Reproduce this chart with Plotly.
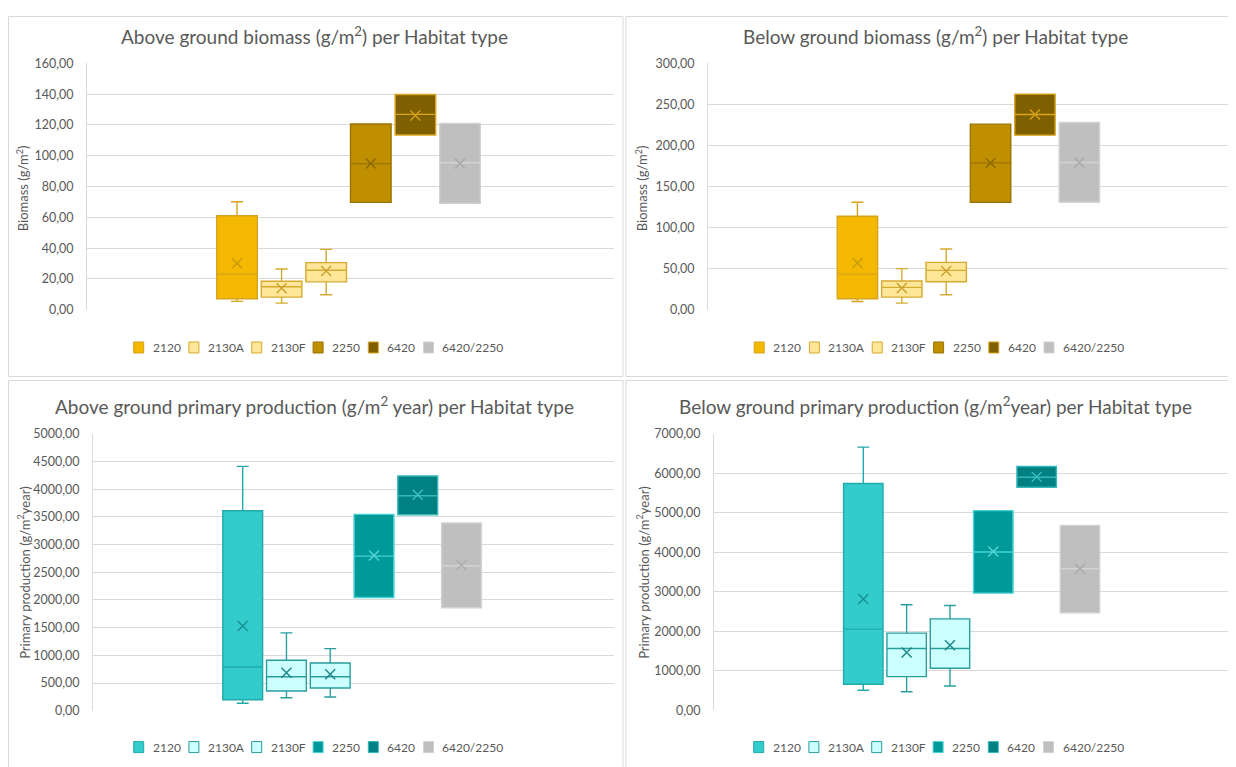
import plotly.graph_objects as go

# The photographed page places the figure 8px right and 16px down and squeezes it
# slightly in height; positions below are given in reference pixels and mapped.
OFF_X, OFF_Y, SY = 8, 16, 0.979
W, H = 1236 - OFF_X, 767


def px(x):
    return (x - OFF_X) / W


def py(y):
    return 1 - ((y - OFF_Y) / SY) / H


categories = ["2120", "2130A", "2130F", "2250", "6420", "6420/2250"]

# Above ground biomass (g/m2)
agb_min = [5.4, 4.3, 9.7, 69.7, 113.5, 69.2]
agb_q1 = [7.1, 8.2, 18.1, 69.7, 113.5, 69.2]
agb_median = [23.0, 14.9, 25.6, 94.9, 126.9, 95.5]
agb_q3 = [61.0, 18.5, 30.6, 120.6, 139.8, 121.0]
agb_max = [70.1, 26.5, 39.2, 120.6, 139.8, 121.0]
agb_mean = [30.2, 14.0, 25.2, 94.9, 126.2, 94.9]

# Below ground biomass (g/m2)
bgb_min = [10.1, 8.1, 18.3, 130.9, 212.6, 130.9]
bgb_q1 = [13.4, 15.4, 34.1, 130.9, 212.6, 130.9]
bgb_median = [43.4, 27.2, 47.9, 178.8, 237.8, 179.3]
bgb_q3 = [113.8, 34.9, 57.7, 226.0, 262.6, 228.0]
bgb_max = [130.9, 50.0, 73.9, 226.0, 262.6, 228.0]
bgb_mean = [56.8, 26.4, 47.1, 178.8, 237.8, 179.3]

# Above ground primary production (g/m2 year)
agp_min = [134, 235, 248, 2044, 3540, 1858]
agp_q1 = [199, 356, 411, 2044, 3540, 1858]
agp_median = [790, 615, 615, 2793, 3884, 2618]
agp_q3 = [3613, 912, 863, 3546, 4240, 3390]
agp_max = [4414, 1406, 1122, 3546, 4240, 3390]
agp_mean = [1532, 687, 658, 2805, 3902, 2630]

# Below ground primary production (g/m2 year)
bgp_min = [508, 472, 617, 2969, 5650, 2470]
bgp_q1 = [660, 853, 1066, 2969, 5650, 2470]
bgp_median = [2056, 1564, 1564, 4010, 5904, 3586]
bgp_q3 = [5744, 1954, 2317, 5058, 6175, 4685]
bgp_max = [6665, 2672, 2655, 5058, 6175, 4685]
bgp_mean = [2817, 1462, 1650, 4025, 5912, 3586]

gold_fill = ["#F4B800", "#FFE699", "#FFE699", "#BF8F00", "#7F6000", "#BFBFBF"]
gold_line = ["#D6A41C", "#D6AA30", "#D6AA30", "#9A7400", "#D9A520", "#D2D2D2"]
gold_mean = ["#C89A10", "#C9A02C", "#C9A02C", "#8C6A00", "#D4A017", "#A8A8A8"]

teal_fill = ["#33CCCC", "#CCFFFF", "#CCFFFF", "#009999", "#008080", "#BFBFBF"]
teal_line = ["#22A9A9", "#2A9D9D", "#2A9D9D", "#45D2D2", "#33B8B8", "#D2D2D2"]
teal_mean = ["#1A9090", "#1A8585", "#1A8585", "#55D5D5", "#40C0C0", "#A8A8A8"]

FONT = "Lato"
GREY = "#595959"
GRID = "#D9D9D9"

panels = [
    dict(ax="", stats=(agb_min, agb_q1, agb_median, agb_q3, agb_max, agb_mean),
         colors=(gold_fill, gold_line, gold_mean),
         xpx=(87, 614), ypx=(63.3, 309.3), xr=(-3.363, 8.453), yr=(0, 160), dtick=20,
         title="Above ground biomass (g/m<sup>2</sup>) per Habitat type", tpos=(314, 35),
         ytitle="Biomass (g/m<sup>2</sup>)", ytpos=(22, 188), legpos=(316.5, 347)),
    dict(ax="2", stats=(bgb_min, bgb_q1, bgb_median, bgb_q3, bgb_max, bgb_mean),
         colors=(gold_fill, gold_line, gold_mean),
         xpx=(708, 1236), ypx=(63.3, 309.3), xr=(-3.367, 8.53), yr=(0, 300), dtick=50,
         title="Below ground biomass (g/m<sup>2</sup>) per Habitat type", tpos=(935, 35),
         ytitle="Biomass (g/m<sup>2</sup>)", ytpos=(641, 188), legpos=(937, 347)),
    dict(ax="3", stats=(agp_min, agp_q1, agp_median, agp_q3, agp_max, agp_mean),
         colors=(teal_fill, teal_line, teal_mean),
         xpx=(93, 614), ypx=(433.3, 709.7), xr=(-3.421, 8.485), yr=(0, 5000), dtick=500,
         title="Above ground primary production (g/m<sup>2</sup> year) per Habitat type", tpos=(314, 405),
         ytitle="Primary production (g/m<sup>2</sup>year)", ytpos=(24, 572), legpos=(316.5, 746)),
    dict(ax="4", stats=(bgp_min, bgp_q1, bgp_median, bgp_q3, bgp_max, bgp_mean),
         colors=(teal_fill, teal_line, teal_mean),
         xpx=(714, 1236), ypx=(433.3, 709.3), xr=(-3.445, 8.6), yr=(0, 7000), dtick=1000,
         title="Below ground primary production (g/m<sup>2</sup>year) per Habitat type", tpos=(935, 405),
         ytitle="Primary production (g/m<sup>2</sup>year)", ytpos=(643, 572), legpos=(936.5, 746)),
]

# approximate label widths (Lato 12px) used to lay out the legend rows
CHAR_W = {"A": 7.6, "F": 6.2, "/": 4.4}


def text_w(s):
    return sum(CHAR_W.get(c, 6.8) for c in s)


fig = go.Figure()
layout = dict(width=W, height=H, margin=dict(l=0, r=0, t=0, b=0),
              paper_bgcolor="white", plot_bgcolor="white", separators=",.",
              font=dict(family=FONT, color=GREY), showlegend=False)
annotations = []
shapes = []

positions = list(range(len(categories)))

for p in panels:
    mn, q1, md, q3, mx, me = p["stats"]
    fills, lines, means = p["colors"]
    xa = "x" + p["ax"]
    ya = "y" + p["ax"]
    for i, cat in enumerate(categories):
        fig.add_trace(go.Box(
            x=[positions[i]], q1=[q1[i]], median=[md[i]], q3=[q3[i]],
            lowerfence=[mn[i]], upperfence=[mx[i]],
            name=cat, width=0.91, whiskerwidth=0.3, boxpoints=False,
            fillcolor=fills[i], line=dict(color=lines[i], width=1.4),
            xaxis=xa, yaxis=ya, hoverinfo="skip"))
        fig.add_trace(go.Scatter(
            x=[positions[i]], y=[me[i]], mode="markers", name=cat + " mean",
            marker=dict(symbol="x-thin", size=10, line=dict(width=1.4, color=means[i]), color=means[i]),
            xaxis=xa, yaxis=ya, hoverinfo="skip"))
    x0, x1 = p["xpx"]
    y0, y1 = p["ypx"]
    layout["xaxis" + p["ax"]] = dict(domain=[max(px(x0), 0), min(px(x1), 1)], range=list(p["xr"]),
                                     showgrid=False, zeroline=False, showticklabels=False,
                                     showline=False, anchor=ya, fixedrange=True)
    layout["yaxis" + p["ax"]] = dict(domain=[py(y1), py(y0)], range=list(p["yr"]),
                                     dtick=p["dtick"], tick0=0, tickformat=".2f",
                                     showgrid=True, gridcolor=GRID, gridwidth=1,
                                     zeroline=False, showline=True, linecolor=GRID, linewidth=1,
                                     ticks="", ticklabelstandoff=10,
                                     tickfont=dict(family=FONT, size=12.5, color=GREY),
                                     anchor=xa, fixedrange=True)
    # legend row (Excel style: small squares + labels)
    lx, ly = p["legpos"]
    widths = [10 + 7 + text_w(c) for c in categories]
    total = sum(widths) + 11 * (len(categories) - 1)
    cur = lx - total / 2
    for i, cat in enumerate(categories):
        shapes.append(dict(type="rect", xref="paper", yref="paper",
                           x0=px(cur), x1=px(cur + 10), y0=py(ly + 5.5), y1=py(ly - 5.5),
                           fillcolor=fills[i], line=dict(color=lines[i], width=1)))
        annotations.append(dict(text=cat, x=px(cur + 17), y=py(ly), xref="paper", yref="paper",
                                xanchor="left", yanchor="middle", showarrow=False,
                                font=dict(family=FONT, size=12, color=GREY)))
        cur += widths[i] + 11
    tx, ty = p["tpos"]
    annotations.append(dict(text=p["title"], x=px(tx), y=py(ty), xref="paper", yref="paper",
                            xanchor="center", yanchor="middle", showarrow=False,
                            font=dict(family=FONT, size=19, color=GREY)))
    ax_, ay_ = p["ytpos"]
    annotations.append(dict(text=p["ytitle"], x=px(ax_), y=py(ay_), xref="paper", yref="paper",
                            xanchor="center", yanchor="middle", showarrow=False, textangle=-90,
                            font=dict(family=FONT, size=13, color=GREY)))

# panel (chart area) borders
for (bx0, by0, bx1, by1) in [(8.5, 16.5, 623, 376), (626, 16.5, 1244, 376),
                             (8.5, 380, 623, 772), (626, 380, 1244, 772)]:
    shapes.append(dict(type="rect", xref="paper", yref="paper",
                       x0=px(bx0), x1=px(bx1), y0=py(by1), y1=min(py(by0), 0.9995),
                       line=dict(color=GRID, width=1), fillcolor="rgba(0,0,0,0)", layer="below"))

layout["annotations"] = annotations
layout["shapes"] = shapes
fig.update_layout(**layout)
fig.write_html("out.html")
